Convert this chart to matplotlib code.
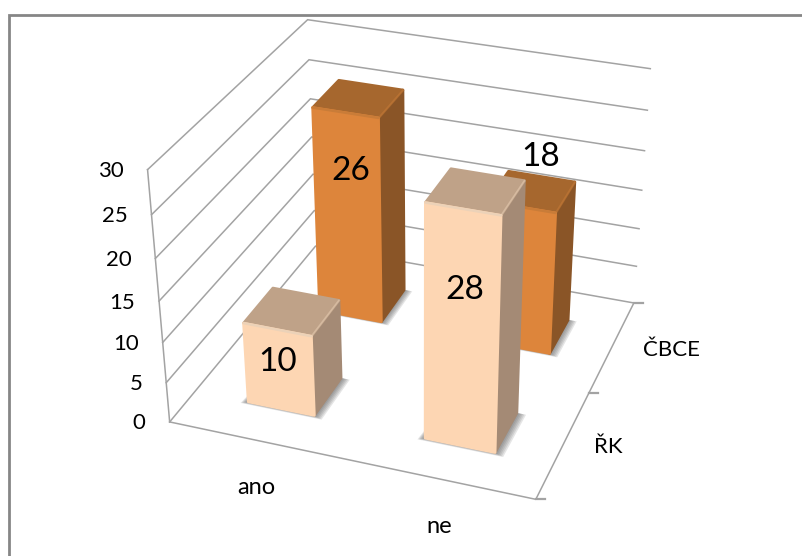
#!/usr/bin/env python3
"""3D-look column chart (ano/ne by ŘK/ČBCE) drawn on a plain 2D axes."""

import numpy as np
import matplotlib
matplotlib.use("Agg")
import matplotlib.pyplot as plt
from matplotlib.patches import Polygon, Rectangle

categories = ["ano", "ne"]
series_names = ["ŘK", "ČBCE"]
values_rk = [10, 28]
values_cbce = [26, 18]
z_ticks = [0, 5, 10, 15, 20, 25, 30]
z_max = 30

plt.rcParams["font.family"] = ["Lato", "DejaVu Sans"]

GRID = "#a3a3a3"
LIGHT = {"front": "#fdd6b3", "top": "#bfa288", "side": "#a48a75", "edge": "#ecd2b8"}
ORANGE = {"front": "#dd853b", "top": "#a6672e", "side": "#8a5527", "edge": "#c97c38"}

# floor/wall calibration: (x, y, z) in unit box -> picture pixels
# the front corners are listed twice so they count for more in the fit
CALIB = [
    ((0, 0, 0), (167.5, 420)),
    ((0, 0, 0), (167.5, 420)),
    ((1, 0, 0), (536.7, 500)),
    ((1, 0, 0), (536.7, 500)),
    ((1, 1, 0), (632, 301.7)),
    ((0, 1, 0), (320, 250)),
    ((0, 0, 1), (149, 171)),
    ((0, 0, 1), (149, 171)),
    ((0, 1, 1), (306.7, 19)),
    ((0, 1, 1), (306.7, 19)),
    ((1, 1, 1), (650.7, 69)),
    ((1, 1, 0.5), (641.7, 190)),
    ((0, 1, 2 / 3), (309, 97.3)),
]


def fit_projection(calib):
    rows = []
    for (x, y, z), (u, v) in calib:
        rows.append([x, y, z, 1, 0, 0, 0, 0, -u * x, -u * y, -u * z, -u])
        rows.append([0, 0, 0, 0, x, y, z, 1, -v * x, -v * y, -v * z, -v])
    _, _, vt = np.linalg.svd(np.array(rows, dtype=float))
    return vt[-1].reshape(3, 4)


P = fit_projection(CALIB)


def proj(x, y, z):
    h = P @ np.array([x, y, z, 1.0])
    return h[0] / h[2], h[1] / h[2]


def draw_shadow(ax, x0, x1, y0, y1, zorder):
    # soft shadow: stack of growing translucent footprints
    for grow in np.linspace(0.017, 0.0, 7):
        pts = [proj(x0 - grow, y0 - grow * 0.7, 0), proj(x1 + grow * 1.5, y0 - grow * 0.7, 0),
               proj(x1 + grow * 1.5, y1, 0), proj(x0, y1, 0)]
        ax.add_patch(Polygon(pts, closed=True, fc="#555555", ec="none", alpha=0.15, zorder=zorder))


def draw_bar(ax, x_mid, y_mid, value, pal, zorder, half=0.095):
    x0, x1 = x_mid - half, x_mid + half
    y0, y1 = y_mid - half, y_mid + half
    z = value / z_max
    draw_shadow(ax, x0, x1, y0, y1, zorder)
    front = [proj(x0, y0, 0), proj(x1, y0, 0), proj(x1, y0, z), proj(x0, y0, z)]
    side = [proj(x1, y0, 0), proj(x1, y1, 0), proj(x1, y1, z), proj(x1, y0, z)]
    top = [proj(x0, y0, z), proj(x1, y0, z), proj(x1, y1, z), proj(x0, y1, z)]
    for pts, col in ((side, pal["side"]), (top, pal["top"]), (front, pal["front"])):
        ax.add_patch(Polygon(pts, closed=True, fc=col, ec=col, lw=2, joinstyle="round", zorder=zorder))
    # small bevel along the top front edge
    (ax1, ay1), (ax2, ay2) = proj(x0, y0, z), proj(x1, y0, z)
    ax.plot([ax1, ax2], [ay1, ay2], color=pal["edge"], lw=1.8, solid_capstyle="round", zorder=zorder + 0.1)
    (bx1, by1), (bx2, by2) = proj(x1, y0, z), proj(x1, y1, z)
    ax.plot([bx1, bx2], [by1, by2], color=pal["edge"], lw=1.2, alpha=0.5, solid_capstyle="round", zorder=zorder + 0.1)


fig = plt.figure(figsize=(8.03, 5.56), dpi=100)
ax = fig.add_axes([0, 0, 1, 1])
ax.set_xlim(0, 803)
ax.set_ylim(556, 0)
ax.axis("off")

# chart frame, only left and top fall inside the picture
ax.add_patch(Rectangle((9.3, 15.3), 900, 700, fc="white", ec="#868686", lw=2, zorder=0))

# gridlines on the two walls
for t in z_ticks:
    z = t / z_max
    pts = [proj(0, 0, z), proj(0, 1, z), proj(1, 1, z)]
    ax.plot(*zip(*pts), color=GRID, lw=1.1, solid_joinstyle="miter", zorder=1)

# axes edges
ax.plot(*zip(proj(0, 0, 0), proj(0, 0, 1)), color=GRID, lw=1.1, zorder=1)
ax.plot(*zip(proj(0, 0, 0), proj(1, 0, 0), proj(1, 1, 0)), color=GRID, lw=1.1, zorder=1)
for y in (0, 0.5, 1):
    u, v = proj(1, y, 0)
    ax.plot([u, u + 9], [v, v], color=GRID, lw=1.6, zorder=1)

# bars, back row first
x_mids = [0.25, 0.75]
y_mids = [0.25, 0.75]
for i, val in enumerate(values_cbce):
    draw_bar(ax, x_mids[i], y_mids[1], val, ORANGE, 3 + i)
for i, val in enumerate(values_rk):
    draw_bar(ax, x_mids[i], y_mids[0], val, LIGHT, 6 + i)

# value labels, heights (in axis units), nudges in pixels
label_size = 24
label_z_rk = [6, 19.3]
label_z_cbce = [19.4, 22.5]
nudge_rk = [(-1, 0), (3, 4)]
nudge_cbce = [(4, 4), (18, -13)]
for i, val in enumerate(values_rk):
    u, v = proj(x_mids[i], y_mids[0] - 0.095, label_z_rk[i] / z_max)
    ax.text(u + nudge_rk[i][0], v + nudge_rk[i][1], str(val), fontsize=label_size,
            ha="center", va="center", zorder=10)
for i, val in enumerate(values_cbce):
    u, v = proj(x_mids[i], y_mids[1] - 0.095, label_z_cbce[i] / z_max)
    ax.text(u + nudge_cbce[i][0], v + nudge_cbce[i][1], str(val), fontsize=label_size,
            ha="center", va="center", zorder=10)

# axis labels
for t in z_ticks:
    u, v = proj(0, 0, t / z_max)
    ax.text(u - 24, v + 1.5, str(t), fontsize=16, ha="right", va="center", zorder=10)
for i, name in enumerate(categories):
    u, v = proj(x_mids[i], 0, 0)
    ax.text(u - 1, v + 47, name, fontsize=17, ha="center", va="center", zorder=10)
for i, name in enumerate(series_names):
    u, v = proj(1, y_mids[i], 0)
    ax.text(u + 31, v + 3.5, name, fontsize=16, ha="left", va="center", zorder=10)

fig.savefig("out.png", dpi=100)
plt.close(fig)
